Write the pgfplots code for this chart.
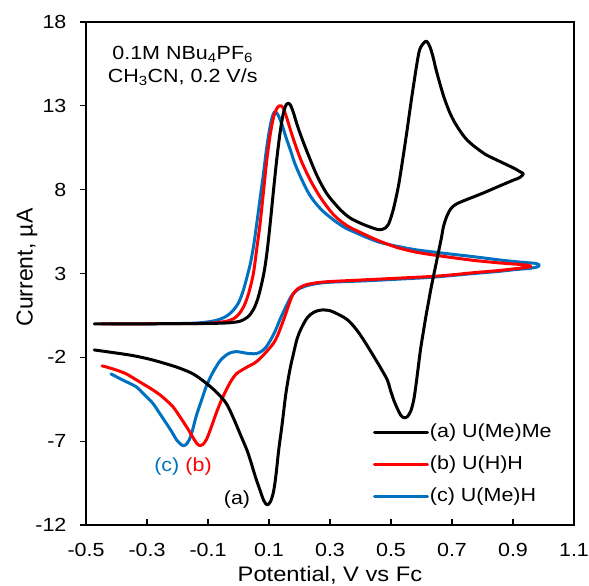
\documentclass[border=0pt]{standalone}
\usepackage{fontspec}
\setmainfont{Liberation Sans}[FakeStretch=1.13]
\newfontfamily\plainfont{Liberation Sans}
\usepackage{pgfplots}
\pgfplotsset{compat=1.18}
\usepackage{pgfplotstable}
\definecolor{cvred}{RGB}{255,0,0}
\definecolor{cvblue}{RGB}{0,112,192}
\newcommand\fs{\fontsize{19bp}{23bp}\selectfont}

\pgfplotstableread{
x y
-0.473 0.00
-0.40 0.00
-0.30 0.00
-0.20 0.01
-0.10 0.02
-0.04 0.05
-0.015 0.09
0.006 0.16
0.030 0.40
0.049 0.85
0.065 1.60
0.082 2.90
0.093 4.20
0.104 6.00
0.115 8.00
0.126 9.90
0.137 11.50
0.147 12.55
0.156 13.05
0.164 13.15
0.171 13.02
0.180 12.60
0.190 12.00
0.203 11.30
0.225 10.25
0.257 8.85
0.290 7.75
0.334 6.80
0.367 6.30
0.400 6.00
0.430 5.78
0.455 5.63
0.470 5.62
0.482 5.72
0.492 5.95
0.500 6.35
0.510 7.00
0.526 8.38
0.548 10.96
0.570 13.75
0.591 16.13
0.605 16.70
0.617 16.85
0.628 16.50
0.638 15.90
0.650 15.00
0.673 13.55
0.695 12.50
0.717 11.76
0.745 11.05
0.772 10.60
0.810 10.10
0.849 9.75
0.903 9.28
0.925 9.05
0.934 8.94
0.922 8.72
0.903 8.58
0.870 8.33
0.838 8.08
0.805 7.82
0.772 7.58
0.740 7.35
0.717 7.17
0.702 6.98
0.691 6.72
0.681 6.32
0.672 5.80
0.665 5.10
0.657 4.40
0.648 3.60
0.640 2.90
0.631 2.10
0.622 1.20
0.614 0.40
0.605 -0.60
0.597 -1.50
0.591 -2.35
0.583 -3.50
0.575 -4.50
0.565 -5.20
0.553 -5.55
0.542 -5.60
0.532 -5.45
0.522 -5.10
0.510 -4.60
0.498 -3.95
0.488 -3.35
0.465 -2.60
0.444 -1.96
0.415 -1.10
0.389 -0.40
0.360 0.20
0.334 0.50
0.300 0.78
0.270 0.82
0.246 0.68
0.225 0.35
0.205 -0.30
0.192 -0.90
0.180 -1.80
0.170 -2.60
0.162 -3.40
0.154 -4.34
0.143 -6.00
0.132 -7.50
0.123 -9.00
0.115 -10.00
0.105 -10.60
0.094 -10.80
0.083 -10.55
0.070 -9.90
0.055 -9.10
0.040 -8.20
0.027 -7.50
0.006 -6.60
-0.016 -5.65
-0.040 -4.75
-0.071 -4.10
-0.106 -3.54
-0.148 -3.00
-0.200 -2.60
-0.281 -2.16
-0.345 -1.90
-0.410 -1.72
-0.473 -1.56
}\cva

\pgfplotstableread{
x y
-0.450 0.00
-0.350 0.00
-0.200 0.01
-0.100 0.03
-0.050 0.12
-0.030 0.20
-0.016 0.30
0.000 0.55
0.017 1.02
0.033 1.80
0.049 3.02
0.060 4.50
0.071 6.00
0.082 7.90
0.093 9.80
0.105 11.40
0.116 12.40
0.126 12.85
0.134 13.00
0.140 13.00
0.147 12.85
0.157 12.35
0.168 11.70
0.181 10.96
0.205 9.75
0.236 8.55
0.270 7.50
0.312 6.50
0.356 5.85
0.411 5.35
0.460 4.95
0.520 4.55
0.580 4.28
0.630 4.13
0.700 3.95
0.772 3.78
0.850 3.64
0.900 3.57
0.935 3.52
0.952 3.48
0.958 3.42
0.945 3.36
0.900 3.27
0.850 3.17
0.772 3.05
0.700 2.92
0.630 2.82
0.500 2.70
0.411 2.62
0.300 2.52
0.257 2.45
0.220 2.32
0.195 2.10
0.180 1.80
0.168 1.30
0.155 0.60
0.140 -0.15
0.127 -0.75
0.115 -1.15
0.102 -1.45
0.085 -1.80
0.069 -2.10
0.052 -2.35
0.036 -2.50
0.015 -2.72
-0.007 -2.98
-0.024 -3.40
-0.040 -3.94
-0.057 -4.60
-0.073 -5.33
-0.090 -6.20
-0.105 -6.90
-0.117 -7.20
-0.126 -7.27
-0.136 -7.15
-0.147 -6.85
-0.160 -6.45
-0.172 -6.10
-0.190 -5.60
-0.215 -4.95
-0.250 -4.35
-0.281 -3.94
-0.330 -3.40
-0.370 -2.97
-0.410 -2.70
-0.447 -2.51
}\cvb

\pgfplotstableread{
x y
-0.418 0.00
-0.300 0.00
-0.180 0.02
-0.126 0.06
-0.084 0.16
-0.060 0.28
-0.040 0.45
-0.020 0.75
0.000 1.25
0.015 1.95
0.028 2.80
0.039 3.60
0.050 4.70
0.060 6.00
0.071 7.50
0.082 8.98
0.091 10.30
0.100 11.40
0.108 12.15
0.115 12.55
0.121 12.65
0.128 12.50
0.136 12.20
0.145 11.75
0.157 11.05
0.170 10.37
0.185 9.55
0.203 8.78
0.225 7.95
0.246 7.35
0.275 6.75
0.312 6.19
0.350 5.72
0.389 5.40
0.411 5.22
0.460 4.88
0.520 4.62
0.580 4.42
0.630 4.30
0.700 4.15
0.772 4.00
0.850 3.82
0.900 3.72
0.950 3.64
0.975 3.60
0.986 3.50
0.978 3.38
0.950 3.30
0.900 3.22
0.850 3.12
0.772 3.00
0.700 2.88
0.630 2.77
0.500 2.64
0.411 2.56
0.300 2.48
0.257 2.40
0.220 2.25
0.195 2.05
0.180 1.80
0.170 1.55
0.155 1.00
0.137 0.30
0.120 -0.45
0.104 -1.00
0.090 -1.40
0.075 -1.65
0.058 -1.78
0.040 -1.78
0.025 -1.75
0.010 -1.70
-0.007 -1.66
-0.025 -1.72
-0.040 -1.86
-0.058 -2.15
-0.073 -2.55
-0.090 -3.10
-0.106 -3.75
-0.122 -4.60
-0.139 -5.53
-0.150 -6.30
-0.161 -6.90
-0.172 -7.20
-0.182 -7.27
-0.193 -7.12
-0.204 -6.90
-0.220 -6.40
-0.237 -5.93
-0.260 -5.30
-0.281 -4.74
-0.310 -4.20
-0.336 -3.75
-0.380 -3.35
-0.418 -2.99
}\cvc

\begin{document}
\begin{tikzpicture}
\path[use as bounding box] (-86bp,-61bp) rectangle (503bp,525bp);
\begin{axis}[
  at={(0,0)}, anchor=south west,
  scale only axis, width=488bp, height=503bp,
  xmin=-0.5, xmax=1.1, ymin=-12, ymax=18,
  line width=1.2bp,
  xtick={-0.5,-0.3,-0.1,0.1,0.3,0.5,0.7,0.9,1.1},
  xticklabels={-0.5,-0.3,-0.1,0.1,0.3,0.5,0.7,0.9,1.1},
  ytick={-12,-7,-2,3,8,13,18},
  yticklabels={-12,-7,-2,3,8,13,18},
  minor tick num=0,
  tick pos=left,
  tick align=inside,
  major tick length=6bp,
  y tick style={xshift=-6bp},
  tick style={black, line width=1.2bp},
  xticklabel style={font=\fs, inner sep=0pt, yshift=-18bp, anchor=north},
  yticklabel style={font=\fs, inner sep=0pt, xshift=-19bp, anchor=east},
  xlabel={Potential, V vs Fc},
  ylabel={Current, µA},
  every axis x label/.style={at={(axis description cs:0.5,0)}, yshift=-41bp, anchor=north, inner sep=0pt, font=\fontsize{21bp}{25bp}\selectfont},
  every axis y label/.style={at={(axis description cs:0,0.5)}, xshift=-48bp, yshift=6bp, anchor=south, rotate=90, inner sep=0pt, font=\plainfont\fontsize{23bp}{27bp}\selectfont},
  legend style={draw=none, fill=none, at={(axis cs:0.439,-5.85)}, anchor=north west, font=\fs, row sep=12bp, inner sep=0pt, nodes={inner sep=1bp, text height=14bp, text depth=4bp}},
  legend cell align=left,
  legend image code/.code={\draw[#1, line width=3bp] (0bp,0bp) -- (53bp,0bp);},
  reverse legend,
  clip=false,
]
\addplot[cvblue, line width=3bp, smooth, tension=0.5, line join=round, line cap=round] table {\cvc};
\addlegendentry{(c) U(Me)H}
\addplot[cvred, line width=3bp, smooth, tension=0.5, line join=round, line cap=round] table {\cvb};
\addlegendentry{(b) U(H)H}
\addplot[black, line width=3bp, smooth, tension=0.5, line join=round, line cap=round] table {\cva};
\addlegendentry{(a) U(Me)Me}
\node[font=\fs, align=center, inner sep=0pt] at (axis cs:-0.183,15.4) {0.1M NBu\textsubscript{4}PF\textsubscript{6}\\CH\textsubscript{3}CN, 0.2 V/s};
\node[font=\fs, text=cvblue, inner sep=0pt] at (axis cs:-0.235,-8.52) {(c)};
\node[font=\fs, text=cvred, inner sep=0pt] at (axis cs:-0.131,-8.52) {(b)};
\node[font=\fs, text=black, inner sep=0pt] at (axis cs:-0.005,-10.5) {(a)};
\end{axis}
\end{tikzpicture}
\end{document}
